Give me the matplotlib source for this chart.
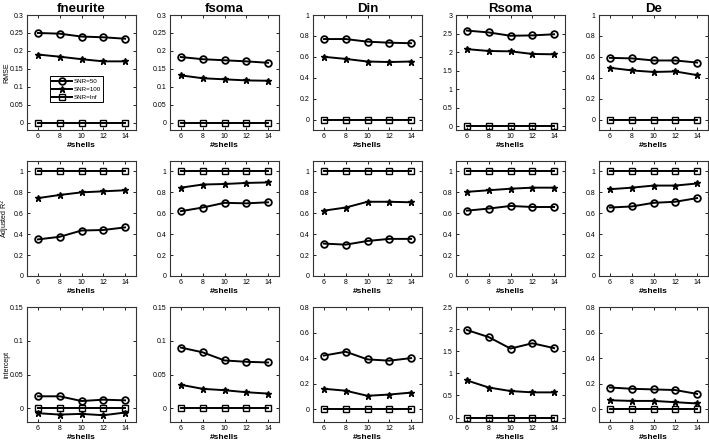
import numpy as np
import matplotlib
matplotlib.use('Agg')
import matplotlib.pyplot as plt

plt.rcParams['font.family'] = ['Liberation Sans', 'DejaVu Sans']

shells = [6, 8, 10, 12, 14]
params = ['fneurite', 'fsoma', 'Din', 'Rsoma', 'De']
snr_labels = ['SNR=50', 'SNR=100', 'SNR=Inf']

# RMSE
rmse_50 = {
    'fneurite': [0.250, 0.248, 0.240, 0.238, 0.234],
    'fsoma': [0.183, 0.177, 0.174, 0.171, 0.167],
    'Din': [0.77, 0.77, 0.745, 0.735, 0.73],
    'Rsoma': [2.58, 2.53, 2.44, 2.45, 2.48],
    'De': [0.59, 0.585, 0.565, 0.565, 0.545],
}
rmse_100 = {
    'fneurite': [0.190, 0.184, 0.177, 0.171, 0.171],
    'fsoma': [0.132, 0.124, 0.121, 0.118, 0.117],
    'Din': [0.60, 0.58, 0.555, 0.55, 0.555],
    'Rsoma': [2.08, 2.03, 2.02, 1.95, 1.94],
    'De': [0.495, 0.47, 0.455, 0.46, 0.425],
}
rmse_inf = {p: [0, 0, 0, 0, 0] for p in params}

# adjusted R^2
r2_50 = {
    'fneurite': [0.35, 0.375, 0.435, 0.44, 0.465],
    'fsoma': [0.62, 0.655, 0.70, 0.695, 0.705],
    'Din': [0.31, 0.30, 0.335, 0.355, 0.355],
    'Rsoma': [0.625, 0.645, 0.67, 0.66, 0.66],
    'De': [0.655, 0.665, 0.70, 0.71, 0.745],
}
r2_100 = {
    'fneurite': [0.745, 0.775, 0.80, 0.81, 0.82],
    'fsoma': [0.845, 0.875, 0.88, 0.89, 0.895],
    'Din': [0.625, 0.655, 0.71, 0.71, 0.705],
    'Rsoma': [0.805, 0.82, 0.835, 0.845, 0.845],
    'De': [0.83, 0.845, 0.865, 0.865, 0.885],
}
r2_inf = {p: [1, 1, 1, 1, 1] for p in params}

# intercept
icpt_50 = {
    'fneurite': [0.018, 0.018, 0.011, 0.013, 0.012],
    'fsoma': [0.090, 0.083, 0.071, 0.069, 0.068],
    'Din': [0.42, 0.45, 0.39, 0.38, 0.40],
    'Rsoma': [1.98, 1.82, 1.56, 1.68, 1.57],
    'De': [0.17, 0.16, 0.155, 0.15, 0.12],
}
icpt_100 = {
    'fneurite': [-0.007, -0.009, -0.008, -0.010, -0.006],
    'fsoma': [0.035, 0.029, 0.027, 0.024, 0.022],
    'Din': [0.16, 0.145, 0.105, 0.115, 0.13],
    'Rsoma': [0.84, 0.68, 0.60, 0.57, 0.57],
    'De': [0.07, 0.065, 0.065, 0.055, 0.045],
}
icpt_inf = {p: [0, 0, 0, 0, 0] for p in params}

rows = [
    ('RMSE', [rmse_50, rmse_100, rmse_inf]),
    ('Adjusted R$^2$', [r2_50, r2_100, r2_inf]),
    ('intercept', [icpt_50, icpt_100, icpt_inf]),
]
ylab_x = [-0.155, -0.135, -0.155]

# (ymin, ymax, tick step) per row and parameter
ylims = [
    {'fneurite': (-0.02, 0.3, 0.05), 'fsoma': (-0.02, 0.3, 0.05), 'Din': (-0.1, 1, 0.2),
     'Rsoma': (-0.1, 3, 0.5), 'De': (-0.1, 1, 0.2)},
    {p: (0, 1.1, 0.2) for p in params},
    {'fneurite': (-0.02, 0.15, 0.05), 'fsoma': (-0.02, 0.15, 0.05), 'Din': (-0.1, 0.8, 0.2),
     'Rsoma': (-0.1, 2.5, 0.5), 'De': (-0.1, 0.8, 0.2)},
]

markers = [dict(marker='o', ms=4.8, mfc='none', mew=1.3),
           dict(marker='*', ms=5.0, mew=1.0),
           dict(marker='s', ms=4.0, mfc='none', mew=1.0)]

fig = plt.figure(figsize=(7.09, 4.41), dpi=100)
W, H = 709, 441
col_left = [27, 170, 313, 456, 599]
row_top = [15, 161, 307]
aw, ah = 109, 115

for r, (ylab, series) in enumerate(rows):
    for c, p in enumerate(params):
        ax = fig.add_axes([col_left[c] / W, 1 - (row_top[r] + ah) / H, aw / W, ah / H])
        for s, data in enumerate(series):
            ax.plot(shells, data[p], color='black', lw=1.4, label=snr_labels[s], **markers[s])
        lo, hi, step = ylims[r][p]
        ax.set_xlim(5, 15)
        ax.set_ylim(lo, hi)
        ax.set_xticks(shells)
        ax.set_yticks(np.round(np.arange(0, hi + 1e-9, step), 3))
        ax.yaxis.set_major_formatter(matplotlib.ticker.FuncFormatter(lambda v, pos: ('%g' % v)))
        ax.tick_params(direction='in', length=2.5, width=0.6, labelsize=5.0, pad=2.5,
                       top=True, right=True)
        for sp in ax.spines.values():
            sp.set_linewidth(0.8)
            sp.set_color('#333333')
        ax.set_xlabel('#shells', fontsize=6, fontweight='bold', labelpad=1.2)
        if c == 0:
            ax.set_ylabel(ylab, fontsize=5.0)
            ax.yaxis.set_label_coords(ylab_x[r], 0.5)
        if r == 0:
            ax.set_title(p, fontsize=9.5, fontweight='bold', pad=2.5)
        if r == 0 and c == 0:
            ax.legend(loc='lower left', bbox_to_anchor=(0.21, 0.24), fontsize=4.5,
                      frameon=True, fancybox=False, edgecolor='black', handlelength=3.2,
                      borderpad=0.35, labelspacing=0.45, handletextpad=0.2, borderaxespad=0,
                      framealpha=1).get_frame().set_linewidth(0.7)

fig.savefig('out.png', dpi=100)
